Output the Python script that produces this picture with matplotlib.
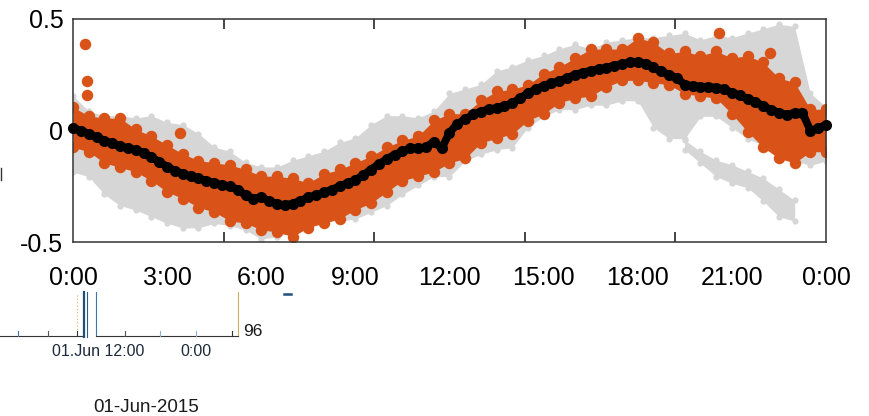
import numpy as np
import matplotlib
matplotlib.use("Agg")
import matplotlib.pyplot as plt
from matplotlib.transforms import offset_copy
from matplotlib.lines import Line2D

plt.rcParams['font.family'] = ['Liberation Sans', 'DejaVu Sans']

# ---------------- data ----------------
# time of day in hours
hours_mean = np.arange(0, 24.01, 0.25)
hours_env = np.arange(0, 24.01, 0.5)

# black: mean curve (every 15 min)
mean_vals = [0.01, 0.0, -0.015, -0.03,
             -0.045, -0.058, -0.07, -0.08,
             -0.087, -0.1, -0.12, -0.14,
             -0.163, -0.18, -0.195, -0.205,
             -0.215, -0.225, -0.235, -0.245,
             -0.25, -0.265, -0.29, -0.305,
             -0.3, -0.315, -0.33, -0.335,
             -0.328, -0.315, -0.3, -0.29,
             -0.278, -0.265, -0.25, -0.236,
             -0.222, -0.2, -0.175, -0.15,
             -0.128, -0.108, -0.094, -0.08,
             -0.08, -0.075, -0.05, -0.08,
             -0.01, 0.03, 0.05, 0.072,
             0.085, 0.095, 0.1, 0.11,
             0.122, 0.145, 0.167, 0.185,
             0.2, 0.212, 0.222, 0.235,
             0.25, 0.26, 0.268, 0.275,
             0.282, 0.29, 0.298, 0.305,
             0.308, 0.3, 0.283, 0.265,
             0.25, 0.235, 0.205, 0.2,
             0.197, 0.195, 0.192, 0.185,
             0.17, 0.157, 0.143, 0.128,
             0.11, 0.093, 0.08, 0.07,
             0.08, 0.08, 0.0, 0.01,
             0.025]

# mean curve at the half-hour grid (for splitting the band fills)
mean_half = mean_vals[::2]

# orange cloud: outer edges (every 30 min)
orange_top = [0.13, 0.09, 0.08, 0.08, 0.03, 0.0, -0.04, -0.08, -0.11, -0.12,
              -0.13, -0.15, -0.18, -0.18, -0.19, -0.21, -0.17, -0.15, -0.12, -0.09,
              -0.05, -0.02, 0.0, 0.07, 0.1, 0.1, 0.16, 0.2, 0.21, 0.23,
              0.28, 0.31, 0.35, 0.39, 0.39, 0.39, 0.44, 0.42, 0.37, 0.38,
              0.36, 0.38, 0.35, 0.36, 0.33, 0.26, 0.24, 0.12, 0.12]
orange_bottom = [-0.1, -0.12, -0.17, -0.19, -0.21, -0.25, -0.3, -0.33, -0.37, -0.39,
                 -0.43, -0.44, -0.47, -0.48, -0.5, -0.46, -0.44, -0.42, -0.38, -0.35,
                 -0.3, -0.25, -0.23, -0.21, -0.17, -0.15, -0.08, -0.06, -0.04, 0.02,
                 0.05, 0.1, 0.12, 0.13, 0.17, 0.2, 0.2, 0.19, 0.18, 0.14,
                 0.13, 0.12, 0.05, -0.03, -0.1, -0.15, -0.17, -0.12, -0.12]
# orange isolated points
orange_out_h = [0.38, 0.44, 0.44, 3.41, 20.6, 22.2]
orange_out_v = [0.39, 0.22, 0.16, -0.01, 0.436, 0.346]

# gray cloud: outer edges of main band (every 30 min)
gray_top = [0.17, 0.1, 0.08, 0.08, 0.07, 0.08, 0.05, 0.04, 0.0, -0.06,
            -0.08, -0.13, -0.15, -0.15, -0.12, -0.1, -0.08, -0.04, -0.02, 0.04,
            0.08, 0.08, 0.07, 0.1, 0.18, 0.2, 0.22, 0.28, 0.3, 0.33,
            0.35, 0.38, 0.4, 0.38, 0.41, 0.42, 0.43, 0.43, 0.44, 0.45,
            0.42, 0.44, 0.43, 0.45, 0.47, 0.49, 0.48, 0.18, 0.12]
gray_bottom = [-0.2, -0.22, -0.3, -0.35, -0.37, -0.4, -0.43, -0.45, -0.45, -0.43,
               -0.44, -0.46, -0.5, -0.49, -0.47, -0.43, -0.42, -0.42, -0.41, -0.38,
               -0.35, -0.3, -0.26, -0.22, -0.22, -0.15, -0.12, -0.1, -0.09, 0.0,
               0.05, 0.08, 0.08, 0.1, 0.1, 0.12, 0.12, 0.0, -0.05, -0.05,
               0.05, 0.05, 0.0, -0.05, -0.08, -0.12, -0.15, -0.17, -0.15]
# gray lower branch (19:30 - 23:00)
branch_hours = [19.5, 20.0, 20.5, 21.0, 21.5, 22.0, 22.5, 23.0]
branch_top = [-0.03, -0.08, -0.12, -0.14, -0.17, -0.2, -0.25, -0.3]
branch_bottom = [-0.1, -0.16, -0.22, -0.25, -0.27, -0.33, -0.4, -0.42]
branch_mid = [-0.065, -0.12, -0.17, -0.195, -0.22, -0.265, -0.325, -0.36]

x_labels = ['0:00', '3:00', '6:00', '9:00', '12:00', '15:00', '18:00', '21:00', '0:00']
x_label_hours = [0, 3, 6, 9, 12, 15, 18, 21, 24]
x_tick_hours = [0, 4.8, 9.6, 14.4, 19.2, 24]
y_ticks = [-0.5, 0, 0.5]
y_labels = ['-0.5', '0', '0.5']

ORANGE = '#d95319'
GRAY = '#d6d6d6'

# ---------------- figure ----------------
W, H = 870, 416
fig = plt.figure(figsize=(W / 100, H / 100), dpi=100)
ax = fig.add_axes([73 / W, (H - 242) / H, 753 / W, 223 / H])

down = lambda d: offset_copy(ax.transData, fig=fig, x=0, y=-d, units='dots')
up = lambda d: offset_copy(ax.transData, fig=fig, x=0, y=d, units='dots')

# gray cloud
rg = 3
ax.fill_between(hours_env, mean_half, gray_top, color=GRAY, lw=0, transform=down(rg), zorder=1)
ax.fill_between(hours_env, gray_bottom, mean_half, color=GRAY, lw=0, transform=up(rg), zorder=1)
ax.scatter(hours_env, gray_top, s=20, color=GRAY, lw=0, transform=down(rg), zorder=1)
ax.scatter(hours_env, gray_bottom, s=20, color=GRAY, lw=0, transform=up(rg), zorder=1)
ax.fill_between(branch_hours, branch_mid, branch_top, color=GRAY, lw=0, transform=down(rg), zorder=1)
ax.fill_between(branch_hours, branch_bottom, branch_mid, color=GRAY, lw=0, transform=up(rg), zorder=1)
ax.scatter(branch_hours, branch_top, s=20, color=GRAY, lw=0, transform=down(rg), zorder=1)
ax.scatter(branch_hours, branch_bottom, s=20, color=GRAY, lw=0, transform=up(rg), zorder=1)

# orange cloud
ro = 5.5
ax.fill_between(hours_env, mean_half, orange_top, color=ORANGE, lw=0, transform=down(ro), zorder=2)
ax.fill_between(hours_env, orange_bottom, mean_half, color=ORANGE, lw=0, transform=up(ro), zorder=2)
ax.scatter(hours_env, orange_top, s=68, color=ORANGE, lw=0, transform=down(ro), zorder=2)
ax.scatter(hours_env, orange_bottom, s=68, color=ORANGE, lw=0, transform=up(ro), zorder=2)
ax.scatter(orange_out_h, orange_out_v, s=68, color=ORANGE, lw=0, zorder=2)

# black mean: chain of dots
ax.plot(hours_mean, mean_vals, color='black', lw=5.6, solid_capstyle='round', zorder=3)
ax.scatter(hours_mean, mean_vals, s=64, color='black', lw=0, zorder=3, clip_on=False)

ax.set_xlim(0, 24)
ax.set_ylim(-0.5, 0.5)
ax.set_xticks(x_label_hours)
ax.set_xticklabels(x_labels, fontsize=18)
ax.set_xticks(x_tick_hours, minor=True)
ax.set_yticks(y_ticks)
ax.set_yticklabels(y_labels, fontsize=18)
ax.tick_params(axis='x', which='major', length=0, pad=17)
ax.tick_params(axis='y', which='major', length=0, pad=7)
ax.tick_params(axis='x', which='minor', direction='in', length=7, width=1.2,
               top=True, bottom=True, color='#262626')
for s in ax.spines.values():
    s.set_color('#333333')
    s.set_linewidth(1.1)

# ---------------- stray fragments of the underlying screenshot ----------------
def fx(x):
    return x / W

def fy(y):
    return 1 - y / H

def seg(x0, y0, x1, y1, **kw):
    fig.add_artist(Line2D([fx(x0), fx(x1)], [fy(y0), fy(y1)], transform=fig.transFigure, **kw))

seg(0, 335.5, 84, 335.5, color='#333333', lw=0.8)
seg(96, 335.5, 238, 335.5, color='#333333', lw=0.8)
seg(84.5, 292, 84.5, 337, color='#1f4e79', lw=1.6)
seg(87, 292, 87, 337, color='#2d5d8a', lw=0.8)
seg(96, 292, 96, 335, color='#3b78b0', lw=0.8)
seg(77, 295, 77, 330, color='#e0b050', lw=0.8, ls=(0, (1, 2)))
seg(238, 292, 238, 335, color='#c8b060', lw=0.8)
for xt, ct in [(18, '#3b78b0'), (48, '#555555'), (77, '#333333'), (125, '#555555'),
               (160, '#8ab0d0'), (196, '#8ab0d0'), (232, '#333333')]:
    seg(xt, 335.5, xt, 331, color=ct, lw=0.8)
seg(284, 294, 291, 294, color='#1f4e79', lw=1.8)
seg(1.5, 168, 1.5, 180, color='#333333', lw=1.0)

fig.text(fx(243), fy(331), '96', fontsize=12.5, ha='left', va='center', color='#1a1a1a')
fig.text(fx(98), fy(352), '01.Jun 12:00', fontsize=11.5, ha='center', va='center', color='#1c2a3a')
fig.text(fx(196), fy(352), '0:00', fontsize=11.5, ha='center', va='center', color='#1c2a3a')
fig.text(fx(146), fy(407), '01-Jun-2015', fontsize=13.5, ha='center', va='center', color='#1a1a1a')

fig.savefig('out.png', dpi=100)
